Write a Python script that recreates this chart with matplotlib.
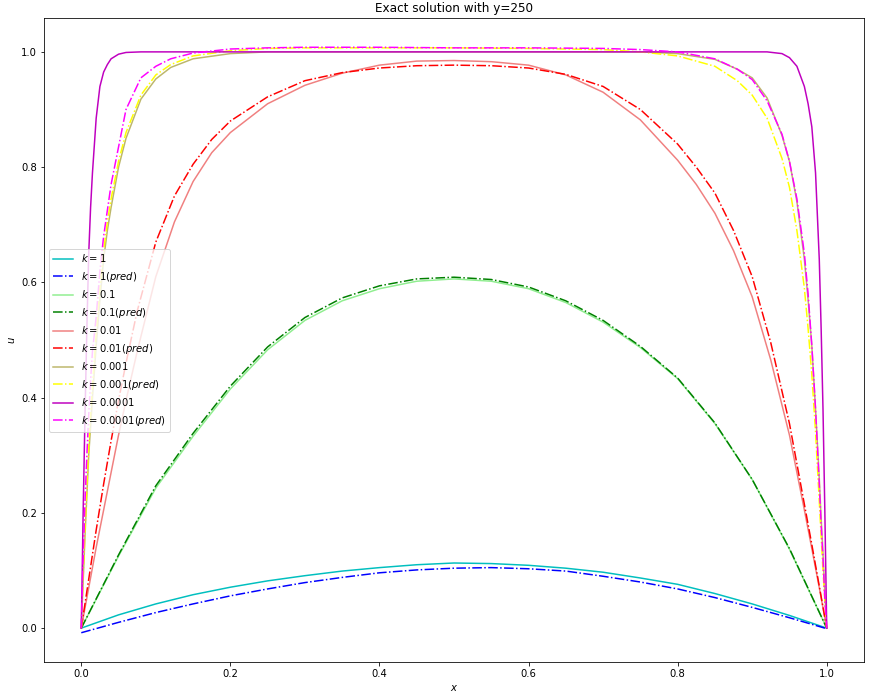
import numpy as np
import matplotlib.pyplot as plt

# values
x_k1 = [0, 0.05, 0.1, 0.15, 0.2, 0.25, 0.3, 0.35, 0.4, 0.45, 0.5,
        0.55, 0.6, 0.65, 0.7, 0.75, 0.8, 0.85, 0.9, 0.95, 1.0]
u_k1 = [0, 0.023, 0.042, 0.058, 0.071, 0.082, 0.091, 0.099, 0.105, 0.110, 0.113,
        0.112, 0.109, 0.104, 0.097, 0.087, 0.076, 0.060, 0.042, 0.022, 0]
u_k1_pred = [-0.008, 0.010, 0.027, 0.042, 0.056, 0.068, 0.079, 0.088, 0.096, 0.101, 0.104,
             0.105, 0.103, 0.099, 0.090, 0.080, 0.068, 0.053, 0.036, 0.018, -0.001]
u_k01 = [0, 0.125, 0.243, 0.333, 0.415, 0.483, 0.534, 0.568, 0.589, 0.602, 0.606,
         0.602, 0.589, 0.565, 0.531, 0.487, 0.433, 0.355, 0.258, 0.137, 0]
u_k01_pred = [0, 0.127, 0.247, 0.338, 0.420, 0.488, 0.539, 0.573, 0.594, 0.606, 0.609,
              0.605, 0.592, 0.568, 0.534, 0.489, 0.434, 0.356, 0.258, 0.138, 0]

x_k001 = [0, 0.01, 0.02, 0.03, 0.04, 0.05, 0.06, 0.075, 0.1, 0.125, 0.15, 0.175, 0.2,
          0.25, 0.3, 0.35, 0.4, 0.45, 0.5, 0.55, 0.6, 0.65, 0.7, 0.75, 0.8, 0.825,
          0.85, 0.875, 0.9, 0.925, 0.95, 0.97, 0.98, 0.99, 1.0]
u_k001 = [0, 0.07, 0.14, 0.205, 0.27, 0.335, 0.395, 0.48, 0.61, 0.705, 0.775, 0.825, 0.86,
          0.91, 0.942, 0.963, 0.977, 0.984, 0.985, 0.983, 0.977, 0.960, 0.930, 0.882, 0.812, 0.77,
          0.72, 0.655, 0.575, 0.465, 0.335, 0.205, 0.138, 0.07, 0]
u_k001_pred = [0, 0.085, 0.17, 0.25, 0.325, 0.395, 0.46, 0.55, 0.67, 0.75, 0.805, 0.848, 0.88,
               0.922, 0.95, 0.964, 0.972, 0.976, 0.977, 0.976, 0.972, 0.961, 0.94, 0.90, 0.84, 0.80,
               0.755, 0.69, 0.61, 0.495, 0.355, 0.215, 0.145, 0.073, 0]

x_steep = [0, 0.0025, 0.005, 0.0075, 0.01, 0.0125, 0.015, 0.02, 0.025, 0.03, 0.035, 0.04,
           0.05, 0.06, 0.08, 0.1, 0.12, 0.15, 0.2, 0.25, 0.3, 0.4, 0.5, 0.6, 0.7, 0.75,
           0.8, 0.85, 0.88, 0.9, 0.92, 0.94, 0.95, 0.96, 0.97, 0.975, 0.98, 0.985,
           0.99, 0.9925, 0.995, 0.9975, 1.0]
u_k0001 = [0, 0.08, 0.16, 0.23, 0.30, 0.35, 0.40, 0.49, 0.57, 0.64, 0.69, 0.73,
           0.80, 0.85, 0.918, 0.953, 0.973, 0.988, 0.997, 1.0, 1.0, 1.0, 1.0, 1.0, 1.0, 1.0,
           0.997, 0.987, 0.97, 0.955, 0.92, 0.855, 0.81, 0.74, 0.64, 0.57, 0.49, 0.38,
           0.26, 0.19, 0.13, 0.06, 0]
u_k0001_pred = [0, 0.09, 0.17, 0.245, 0.315, 0.37, 0.42, 0.51, 0.59, 0.655, 0.705, 0.745,
                0.81, 0.86, 0.925, 0.96, 0.978, 0.993, 1.002, 1.006, 1.007, 1.007, 1.007, 1.006, 1.004, 1.0,
                0.993, 0.975, 0.95, 0.925, 0.885, 0.815, 0.765, 0.69, 0.59, 0.52, 0.44, 0.34,
                0.22, 0.16, 0.10, 0.045, 0]
u_k00001 = [0, 0.2, 0.37, 0.52, 0.65, 0.73, 0.79, 0.885, 0.94, 0.965, 0.978, 0.988,
            0.996, 0.999, 1.0, 1.0, 1.0, 1.0, 1.0, 1.0, 1.0, 1.0, 1.0, 1.0, 1.0, 1.0,
            1.0, 1.0, 1.0, 1.0, 1.0, 0.997, 0.99, 0.975, 0.94, 0.91, 0.87, 0.79,
            0.64, 0.52, 0.38, 0.2, 0]
u_k00001_pred = [0, 0.12, 0.22, 0.30, 0.37, 0.43, 0.48, 0.54, 0.62, 0.68, 0.725, 0.77,
                 0.835, 0.90, 0.955, 0.975, 0.988, 0.998, 1.005, 1.007, 1.008, 1.008, 1.007, 1.007, 1.006, 1.004,
                 1.0, 0.988, 0.97, 0.952, 0.915, 0.857, 0.81, 0.745, 0.65, 0.58, 0.49, 0.38,
                 0.25, 0.18, 0.12, 0.05, 0]

fig = plt.figure(figsize=(871 / 72, 700 / 72), dpi=72)
ax = fig.add_axes([44 / 871, 38 / 700, 820 / 871, 644 / 700])

ax.plot(x_k1, u_k1, color="c", label=r"$k=1$")
ax.plot(x_k1, u_k1_pred, "-.", color="b", label=r"$k=1(pred)$")
ax.plot(x_k1, u_k01, color="lightgreen", label=r"$k=0.1$")
ax.plot(x_k1, u_k01_pred, "-.", color="g", label=r"$k=0.1(pred)$")
ax.plot(x_k001, u_k001, color="lightcoral", label=r"$k=0.01$")
ax.plot(x_k001, u_k001_pred, "-.", color="r", label=r"$k=0.01(pred)$")
ax.plot(x_steep, u_k0001, color="darkkhaki", label=r"$k=0.001$")
ax.plot(x_steep, u_k0001_pred, "-.", color="yellow", label=r"$k=0.001(pred)$")
ax.plot(x_steep, u_k00001, color="m", label=r"$k=0.0001$")
ax.plot(x_steep, u_k00001_pred, "-.", color="magenta", label=r"$k=0.0001(pred)$")

ax.set_xlabel(r"$x$")
ax.set_ylabel(r"$u$")
ax.set_title("Exact solution with y=250")
ax.legend(loc="center left")

plt.savefig("out.png", dpi=72)
